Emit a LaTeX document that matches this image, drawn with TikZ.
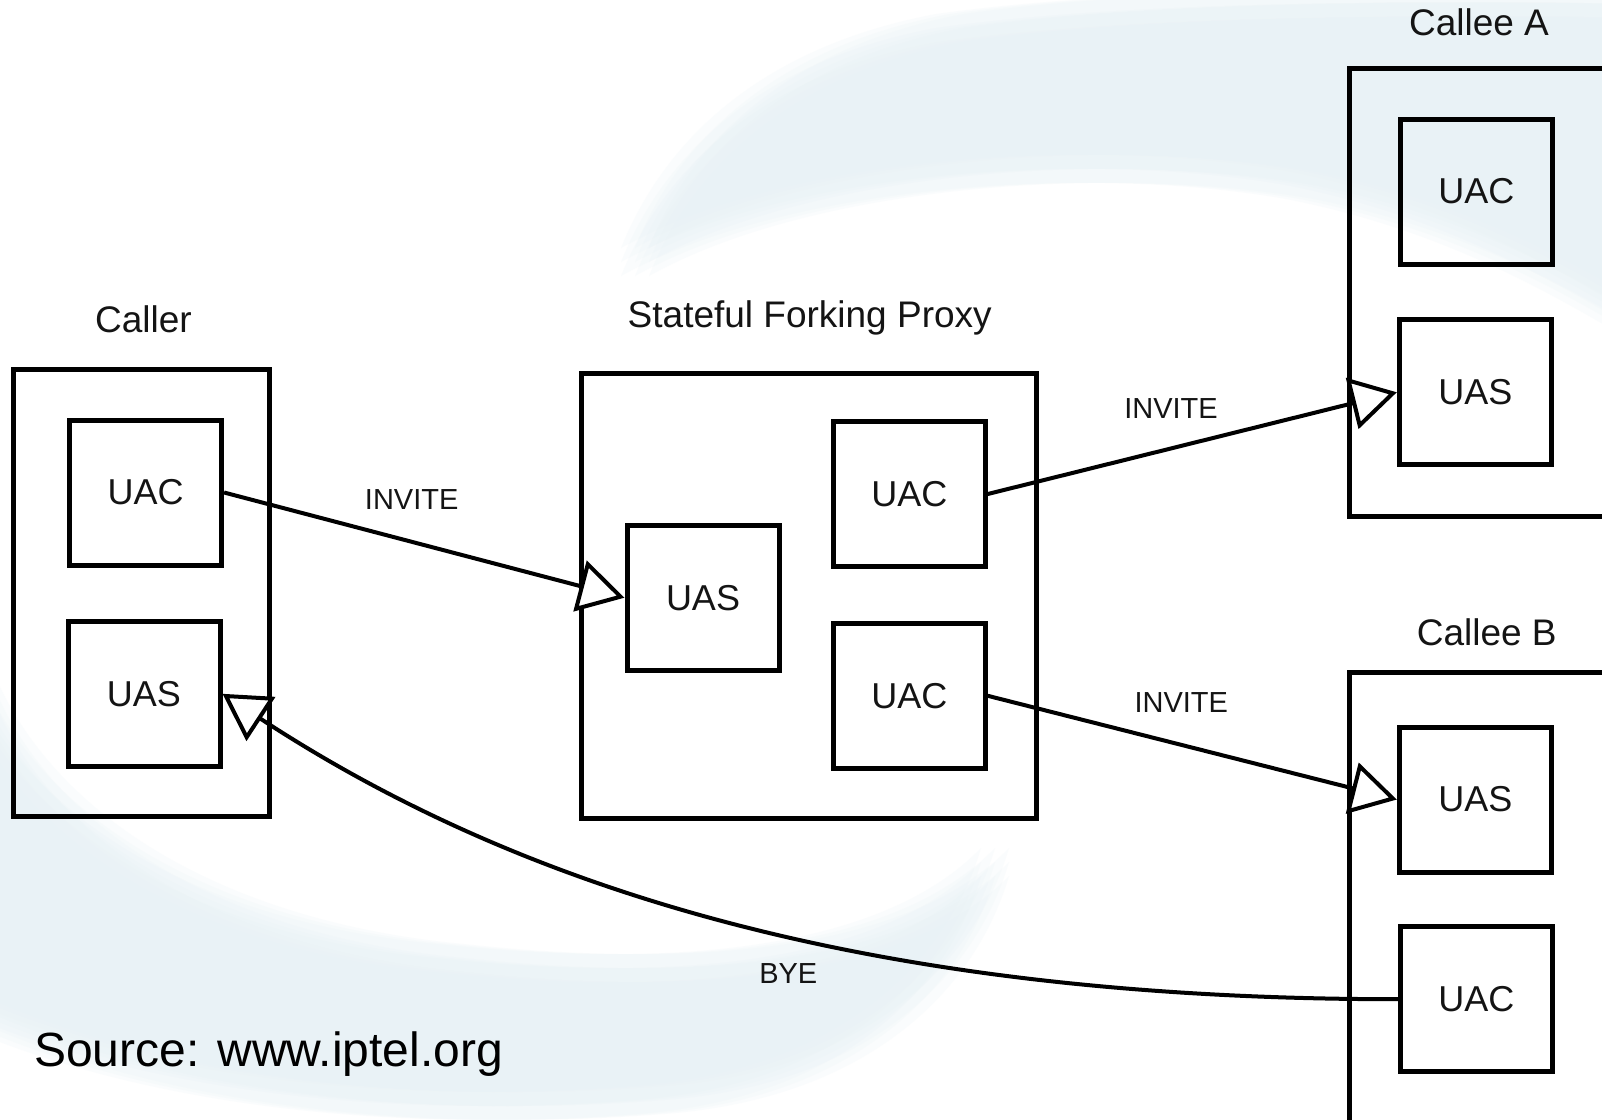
\documentclass[tikz,border=0pt]{standalone}
\usepackage{fontspec}
\setmainfont{Liberation Sans}
\usetikzlibrary{arrows.meta}
\definecolor{swoosh}{RGB}{232,242,246}
\definecolor{ink}{RGB}{20,20,20}

\begin{document}
\begin{tikzpicture}[x=1pt, y=-1pt,
  unitbox/.style={draw=black, line width=5pt, minimum width=152pt, minimum height=145pt,
    inner sep=0pt, text=ink, font=\fontsize{36}{40}\selectfont},
  hostbox/.style={draw=black, line width=5pt, inner sep=0pt},
  hostlbl/.style={anchor=base, inner sep=0pt, text=ink, font=\fontsize{37}{42}\selectfont},
  msglbl/.style={anchor=base, inner sep=0pt, text=ink, font=\fontsize{29}{33}\selectfont},
  sipmsg/.style={line width=4pt,
    -{Triangle[length=46pt, width=52pt, fill=white, line width=4pt]}},
]
\useasboundingbox (0,0) rectangle (1602,1119);
\clip (0,0) rectangle (1602,1119);
\fill[white] (0,0) rectangle (1602,1119);

% soft pale swooshes of the slide background
\foreach \dx in {-14,0,14} {
  \foreach \dy in {-14,0,14} {
    \fill[swoosh, opacity=0.2, shift={(\dx,\dy)}]
      (635,262) .. controls (680,150) and (780,60) .. (950,28)
      .. controls (1150,0) and (1450,0) .. (1700,5)
      -- (1700,360)
      .. controls (1600,300) and (1480,220) .. (1300,185)
      .. controls (1100,150) and (800,170) .. cycle;
    \fill[swoosh, opacity=0.2, shift={(\dx,\dy)}]
      (-30,660) .. controls (20,820) and (200,935) .. (450,958)
      .. controls (700,985) and (900,960) .. (995,862)
      .. controls (960,980) and (850,1085) .. (650,1100)
      .. controls (400,1120) and (150,1090) .. (-30,1010) -- cycle;
  }
}

% hosts
\node[hostbox, minimum width=255.6pt, minimum height=447.6pt] (caller) at (141.5,593.1) {};
\node[hostbox, minimum width=454.7pt, minimum height=445.5pt] (proxy) at (809.2,596.2) {};
\node[hostbox, minimum width=348.4pt, minimum height=447.6pt] (calleeA) at (1523.3,292.7) {};
\node[hostbox, minimum width=348.4pt, minimum height=524.8pt] (calleeB) at (1523.3,935.1) {};

% host titles
\node[hostlbl] (callerT) at (143.5,332) {Caller};
\node[hostlbl] (proxyT) at (809.7,327) {Stateful Forking Proxy};
\node[hostlbl] (calleeAT) at (1479,35.5) {Callee A};
\node[hostlbl] (calleeBT) at (1486.7,645) {Callee B};

% user agents
\node[unitbox] (cUAC) at (145.6,492.5) {UAC};
\node[unitbox] (cUAS) at (144.0,693.8) {UAS};
\node[unitbox] (pUAS) at (703.0,597.7) {UAS};
\node[unitbox] (pUACa) at (909.3,494.0) {UAC};
\node[unitbox] (pUACb) at (909.3,695.8) {UAC};
\node[unitbox] (aUAC) at (1476.4,191.6) {UAC};
\node[unitbox] (aUAS) at (1475.3,392.3) {UAS};
\node[unitbox] (bUAS) at (1475.3,799.5) {UAS};
\node[unitbox] (bUAC) at (1476.4,999.2) {UAC};

% messages
\draw[sipmsg] (cUAC.east) -- (pUAS.west);
\draw[sipmsg] (pUACa.east) -- (aUAS.west);
\draw[sipmsg] (pUACb.east) -- (bUAS.west);
\draw[sipmsg] (bUAC.west) .. controls +(-540,0) and +(290,190) .. (cUAS.east);

\node[msglbl] (inv1) at (411.7,509) {INVITE};
\node[msglbl] (inv2) at (1171,418) {INVITE};
\node[msglbl] (inv3) at (1181.3,712) {INVITE};
\node[msglbl] (bye) at (788.3,983) {BYE};

\node[anchor=base west, inner sep=0pt, text=black, font=\fontsize{48}{54}\selectfont]
  (source) at (34,1066) {Source: www.iptel.org};
\end{tikzpicture}
\end{document}
